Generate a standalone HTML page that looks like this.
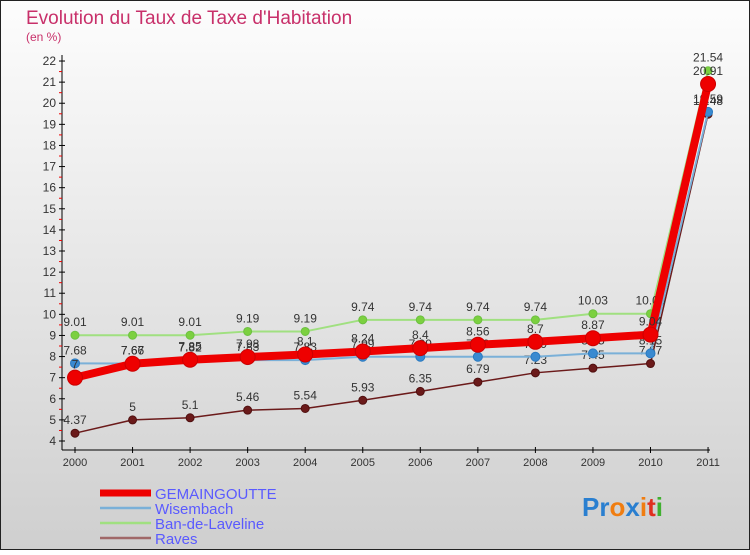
<!DOCTYPE html>
<html><head><meta charset="utf-8"><style>
body{margin:0;}
svg text{font-family:"Liberation Sans",sans-serif;}
</style></head><body>
<svg id="chart" width="750" height="550" xmlns="http://www.w3.org/2000/svg">
<defs><linearGradient id="bg" x1="0" y1="0" x2="0" y2="1"><stop offset="0" stop-color="#fdfdfd"/><stop offset="1" stop-color="#cfcfcf"/></linearGradient></defs>
<rect x="0.5" y="0.5" width="749" height="549" fill="url(#bg)" stroke="#222"/>
<text x="26" y="24" font-size="19" fill="#c8306a">Evolution du Taux de Taxe d'Habitation</text>
<text x="26" y="41" font-size="12" fill="#c8306a">(en %)</text>
<g id="axes"></g>
<g id="series"></g>
<g id="legend"></g>
<text x="582" y="516" font-size="26" font-weight="bold"><tspan fill="#2a7fd0">Pr</tspan><tspan fill="#f07d10">o</tspan><tspan fill="#2a7fd0">x</tspan><tspan fill="#f07d10">i</tspan><tspan fill="#e03020">t</tspan><tspan fill="#40b030">i</tspan></text>
</svg>
<script>
const years=[2000,2001,2002,2003,2004,2005,2006,2007,2008,2009,2010,2011];
const yTicks=[4,5,6,7,8,9,10,11,12,13,14,15,16,17,18,19,20,21,22];
const gemaingoutte=[7,7.66,7.85,7.98,8.1,8.24,8.4,8.56,8.7,8.87,9.04,20.91];
const wisembach=[7.68,7.67,7.82,7.83,7.83,7.99,7.99,7.99,7.99,8.15,8.15,19.59];
const banDeLaveline=[9.01,9.01,9.01,9.19,9.19,9.74,9.74,9.74,9.74,10.03,10.03,21.54];
const raves=[4.37,5,5.1,5.46,5.54,5.93,6.35,6.79,7.23,7.45,7.67,19.48];
const NS="http://www.w3.org/2000/svg";
function X(i){return 75+i*57.55;}
function Y(v){return 441-(v-4)*21.11;}
function mk(t,a,p){const e=document.createElementNS(NS,t);for(const k in a)e.setAttribute(k,a[k]);p.appendChild(e);return e;}
const ax=document.getElementById('axes');
let l=mk('line',{x1:62,y1:55,x2:62,y2:450,stroke:'#000'},ax);


l=mk('line',{x1:62,y1:450,x2:710,y2:450,stroke:'#000'},ax);


yTicks.forEach(v=>{
 mk('line',{x1:59,y1:Y(v),x2:65,y2:Y(v),stroke:'#000'},ax);
 if(v<22)mk('line',{x1:59,y1:Y(v+0.5),x2:62,y2:Y(v+0.5),stroke:'#e00'},ax);
 const t=mk('text',{x:56,y:Y(v)+4,'font-size':12,'text-anchor':'end',fill:'#333'},ax);
 
 
 t.textContent=v;
});
years.forEach((y,i)=>{
 mk('line',{x1:X(i),y1:447,x2:X(i),y2:453,stroke:'#000'},ax);
 const t=mk('text',{x:X(i),y:466,'font-size':11,'text-anchor':'middle',fill:'#333'},ax);
 
 
 t.textContent=y;
});
const sg=document.getElementById('series');
function draw(data,color,w,r,name,stroke){
 const g=mk('g',{},sg);
 
 
 const p=mk('polyline',{points:data.map((v,i)=>X(i)+','+Y(v)).join(' '),fill:'none',stroke:color,'stroke-width':w,'stroke-linejoin':'round'},g);
 data.forEach((v,i)=>{
  const c=mk('circle',{cx:X(i),cy:Y(v),r:r,fill:color,stroke:stroke,'stroke-width':1},g);
  
  
  const t=mk('text',{x:X(i),y:Y(v)-9,'font-size':12,'text-anchor':'middle',fill:'#333'},g);
  
  
  t.textContent=v;
 });
}
draw(raves,'#6b1a1a',1.5,4,'raves','#501010');
draw(banDeLaveline,'#a0e080',2,4,'ban-de-laveline','#6cc040');
draw(wisembach,'#7ab0d8',2,4.5,'wisembach','#2a7ac0');
draw(gemaingoutte,'#ee0000',8,7.5,'gemaingoutte','#cc0000');
sg.querySelectorAll('circle[fill="#a0e080"]').forEach(c=>c.setAttribute('fill','#7cd040'));
sg.querySelectorAll('circle[fill="#7ab0d8"]').forEach(c=>c.setAttribute('fill','#3a8ad0'));
const lg=document.getElementById('legend');
const legendNames=['GEMAINGOUTTE','Wisembach','Ban-de-Laveline','Raves'];
const legendColors=['#ee0000','#7ab0d8','#a0e080','#a06868'];
const legendWidths=[7,2.5,2.5,2.5];
legendNames.forEach((n,i)=>{
 const y=[493,508,523,538][i];
 const g=mk('g',{},lg);
 
 
 mk('line',{x1:100,y1:y,x2:151,y2:y,stroke:legendColors[i],'stroke-width':legendWidths[i]},g);
 const t=mk('text',{x:155,y:y+6,'font-size':15,fill:'#5a5aff'},g);
 t.textContent=n;
});
</script>
</body></html>
